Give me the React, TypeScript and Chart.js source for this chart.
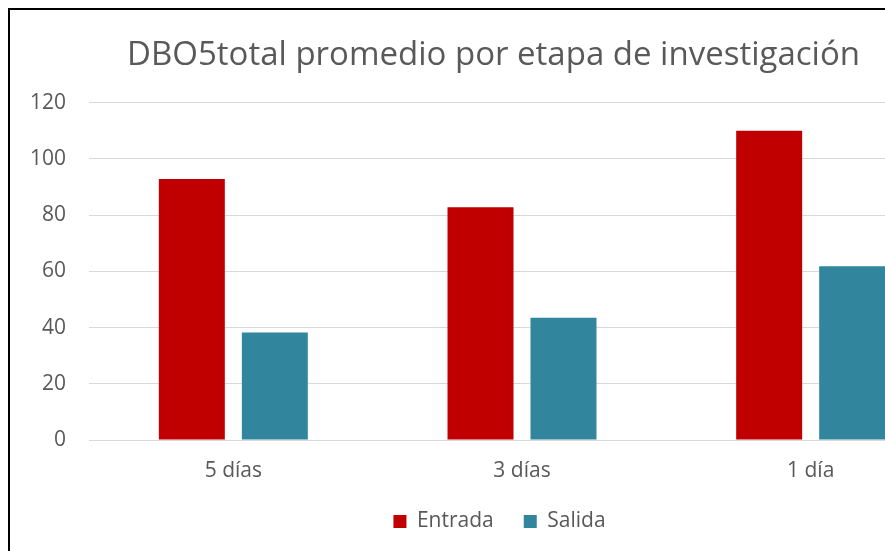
import React, { useEffect, useRef } from "react";
import { Chart, registerables } from "chart.js";

Chart.register(...registerables);

const titleText = "DBO5total promedio por etapa de investigación";
const categories = ["5 días", "3 días", "1 día"];
const entradaValues = [92.8, 82.8, 110.0];
const salidaValues = [38.2, 43.5, 61.8];
const yMin = 0;
const yMax = 120;
const yStep = 20;

const FONT = "'Open Sans', 'Noto Sans', sans-serif";
const TEXT = "#595959";

const legendShift = {
  id: "legendShift",
  afterLayout(chart: any) {
    if (chart.legend) {
      chart.legend.left += 6;
      chart.legend.right += 6;
    }
  },
};

export default function App() {
  const ref = useRef<HTMLCanvasElement | null>(null);

  useEffect(() => {
    document.documentElement.style.overflow = "hidden";
    document.body.style.overflow = "hidden";
    const canvas = ref.current;
    if (!canvas) return;
    const chart = new Chart(canvas, {
      type: "bar",
      data: {
        labels: categories,
        datasets: [
          {
            label: "Entrada",
            data: entradaValues,
            backgroundColor: "#C00000",
            categoryPercentage: 0.575,
            barPercentage: 0.795,
          },
          {
            label: "Salida",
            data: salidaValues,
            backgroundColor: "#31859C",
            categoryPercentage: 0.575,
            barPercentage: 0.795,
          },
        ],
      },
      plugins: [legendShift],
      options: {
        responsive: false,
        animation: false,
        devicePixelRatio: 1,
        layout: { padding: { left: 22, right: 15, top: 0, bottom: 0 } },
        plugins: {
          title: {
            display: true,
            text: titleText,
            color: TEXT,
            font: { family: FONT, size: 33, weight: "normal" },
            padding: { top: 26, bottom: 27 },
          },
          legend: {
            position: "bottom",
            labels: {
              boxWidth: 13,
              boxHeight: 13,
              padding: 30,
              color: TEXT,
              font: { family: FONT, size: 21 },
            },
          },
          tooltip: { enabled: false },
        },
        scales: {
          x: {
            grid: { display: false },
            border: { display: false },
            ticks: {
              color: TEXT,
              font: { family: FONT, size: 21 },
              padding: 10,
            },
            afterFit(scale: any) {
              scale.height = 41;
            },
          },
          y: {
            min: yMin,
            max: yMax,
            grid: { color: "#D9D9D9", lineWidth: 1, drawTicks: false },
            border: { display: false },
            ticks: {
              stepSize: yStep,
              color: TEXT,
              font: { family: FONT, size: 21 },
              padding: 23,
            },
            afterFit(scale: any) {
              scale.width = 57;
            },
          },
        },
      },
    });
    return () => chart.destroy();
  }, []);

  return (
    <div
      style={{
        position: "fixed",
        left: 8,
        top: 8,
        width: 877,
        height: 543,
        overflow: "hidden",
      }}
    >
      <div
        style={{
          width: 960,
          height: 600,
          borderLeft: "2px solid #000",
          borderTop: "2px solid #000",
          background: "#fff",
        }}
      >
        <canvas ref={ref} width={960} height={532} style={{ display: "block" }} />
      </div>
    </div>
  );
}
